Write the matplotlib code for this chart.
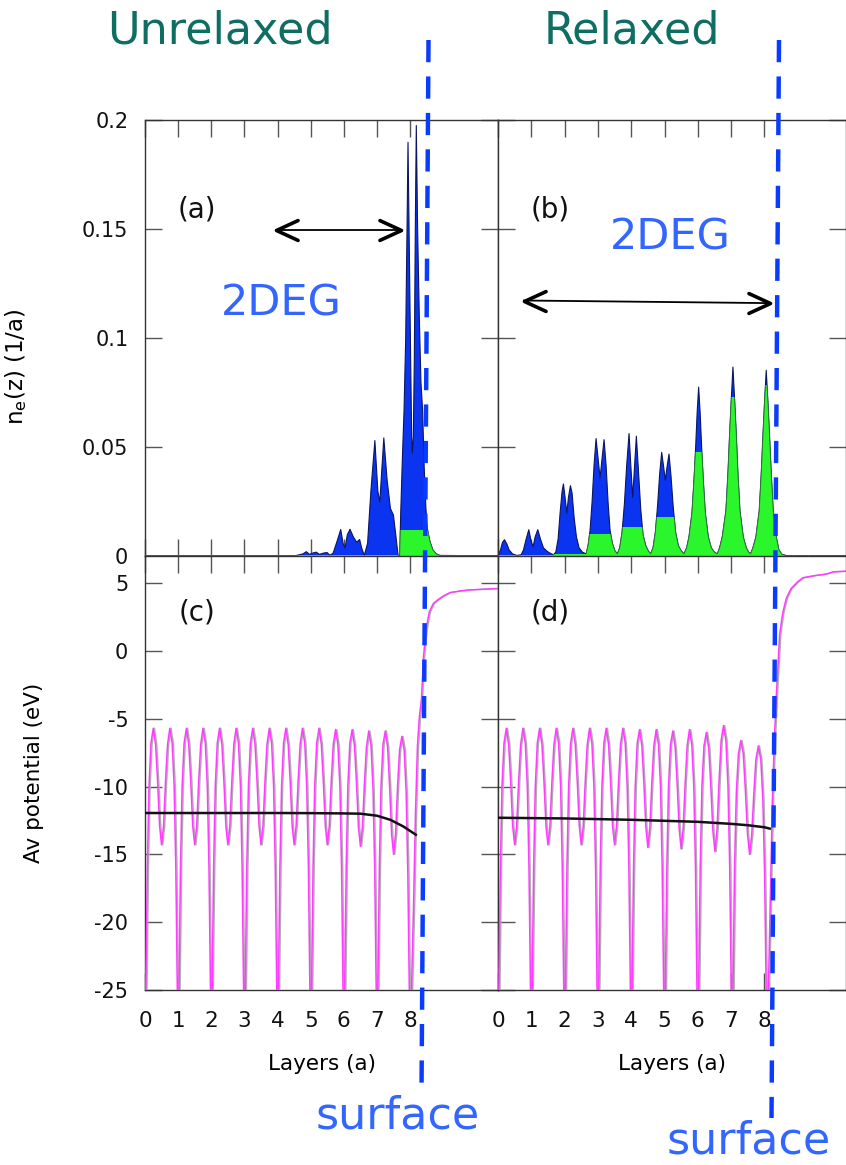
import numpy as np
import matplotlib
matplotlib.use("Agg")
import matplotlib.pyplot as plt
from matplotlib.patches import Polygon
from matplotlib.lines import Line2D
from matplotlib.markers import MarkerStyle
from matplotlib.path import Path
import matplotlib.transforms as mtransforms

plt.rcParams['font.family'] = ['DejaVu Sans']
plt.rcParams['axes.unicode_minus'] = False

# ---- electron density n_e(z), unrelaxed (a)
dens_a_x = [0.0, 4.5, 4.75, 4.85, 4.95, 5.05, 5.15, 5.25, 5.38, 5.48, 5.56, 5.66, 5.78, 5.89,
            5.96, 6.02, 6.09, 6.17, 6.27, 6.37, 6.46, 6.52, 6.60, 6.70, 6.80, 6.92, 7.01, 7.07,
            7.13, 7.19, 7.29, 7.39, 7.48, 7.55, 7.62, 7.67, 7.70, 7.75, 7.80, 7.85, 7.89, 7.92,
            7.96, 8.00, 8.03, 8.05, 8.08, 8.11, 8.14, 8.17, 8.21, 8.26, 8.31, 8.36, 8.41, 8.46,
            8.50, 8.58, 8.67, 8.77, 8.88, 10.65]
dens_a_y = [0.0003, 0.0003, 0.0012, 0.0022, 0.0010, 0.0016, 0.0020, 0.0010, 0.0016, 0.0018, 0.0006,
            0.0015, 0.0070, 0.0124, 0.0060, 0.0040, 0.0100, 0.0125, 0.0090, 0.0066, 0.0078, 0.0040,
            0.0005, 0.0060, 0.0300, 0.0532, 0.0300, 0.0250, 0.0400, 0.0544, 0.0350, 0.0220, 0.0190,
            0.0100, 0.0005, 0.0005, 0.0200, 0.0450, 0.0670, 0.1000, 0.1500, 0.1900, 0.1400, 0.0900,
            0.0550, 0.0475, 0.0550, 0.0900, 0.1500, 0.1977, 0.1500, 0.1100, 0.0800, 0.0670, 0.0400,
            0.0220, 0.0130, 0.0070, 0.0030, 0.0012, 0.0005, 0.0003]
# green part = density cut at a level per layer
green_a_edges = [0.0, 7.65, 10.65]
green_a_caps = [0.0003, 0.012]

# ---- electron density n_e(z), relaxed (b)
dens_b_x = [0.00, 0.06, 0.12, 0.18, 0.25, 0.32, 0.42, 0.55, 0.68, 0.75, 0.83, 0.91, 0.98, 1.04,
            1.10, 1.18, 1.26, 1.35, 1.45, 1.55, 1.65,
            1.72, 1.79, 1.85, 1.91, 1.95, 2.00, 2.05, 2.10, 2.16, 2.21, 2.27, 2.34, 2.42, 2.52, 2.63,
            2.69, 2.75, 2.81, 2.87, 2.93, 2.99, 3.05, 3.11, 3.17, 3.23, 3.29, 3.35, 3.42, 3.50, 3.57,
            3.64, 3.71, 3.78, 3.85, 3.92, 3.98, 4.03, 4.08, 4.14, 4.20, 4.27, 4.34, 4.42, 4.50, 4.57,
            4.64, 4.71, 4.78, 4.84, 4.90, 4.96, 5.01, 5.06, 5.12, 5.18, 5.25, 5.32, 5.40, 5.49, 5.57,
            5.65, 5.72, 5.81, 5.87, 5.92, 5.965, 6.01, 6.055, 6.10, 6.15, 6.21, 6.30, 6.39, 6.48, 6.57,
            6.64, 6.72, 6.83, 6.89, 6.94, 6.99, 7.04, 7.09, 7.14, 7.19, 7.25, 7.35, 7.44, 7.51, 7.57,
            7.64, 7.73, 7.83, 7.89, 7.94, 7.99, 8.04, 8.09, 8.14, 8.19, 8.25, 8.34, 8.42, 8.51, 8.65,
            10.45]
dens_b_y = [0.0010, 0.0030, 0.0065, 0.0077, 0.0058, 0.0030, 0.0012, 0.0005, 0.0008, 0.0030, 0.0080,
            0.0123, 0.0070, 0.0045, 0.0090, 0.0123, 0.0080, 0.0040, 0.0025, 0.0015, 0.0008,
            0.0020, 0.0080, 0.0200, 0.0300, 0.0333, 0.0270, 0.0199, 0.0270, 0.0325, 0.0290, 0.0180,
            0.0090, 0.0040, 0.0020, 0.0012,
            0.0050, 0.0120, 0.0250, 0.0420, 0.0541, 0.0450, 0.0360, 0.0450, 0.0536, 0.0420, 0.0250,
            0.0120, 0.0060, 0.0025, 0.0012,
            0.0040, 0.0110, 0.0240, 0.0420, 0.0564, 0.0400, 0.0270, 0.0400, 0.0552, 0.0400, 0.0220,
            0.0100, 0.0050, 0.0025, 0.0012,
            0.0040, 0.0110, 0.0240, 0.0380, 0.0478, 0.0410, 0.0350, 0.0410, 0.0470, 0.0370, 0.0220,
            0.0110, 0.0050, 0.0025, 0.0012,
            0.0040, 0.0090, 0.0200, 0.0350, 0.0500, 0.0660, 0.0777, 0.0660, 0.0500, 0.0350, 0.0200,
            0.0090, 0.0040, 0.0020, 0.0012,
            0.0040, 0.0090, 0.0210, 0.0380, 0.0560, 0.0720, 0.0869, 0.0720, 0.0560, 0.0380, 0.0210,
            0.0090, 0.0040, 0.0020, 0.0012,
            0.0040, 0.0090, 0.0210, 0.0380, 0.0550, 0.0710, 0.0854, 0.0710, 0.0550, 0.0380, 0.0210,
            0.0090, 0.0030, 0.0010, 0.0004,
            0.0003]
green_b_edges = [0.0, 1.65, 2.63, 3.57, 4.57, 5.57, 6.57, 7.57, 10.45]
green_b_caps = [0.0003, 0.0010, 0.0100, 0.0133, 0.0181, 0.0475, 0.0731, 0.0786]

# ---- averaged potential (eV); each row = one layer, sampled at pot_offsets
pot_offsets = [0.0, 0.03, 0.07, 0.12, 0.18, 0.25, 0.32, 0.38, 0.44, 0.5,
               0.56, 0.62, 0.68, 0.75, 0.82, 0.88, 0.93, 0.97]

pot_c_sites = [0, 1, 2, 3, 4, 5, 6, 7, 8]
pot_c_cells = [
    [-30, -24, -16, -10, -6.8, -5.7, -6.9, -9.6, -12.9, -14.3, -12.9, -9.6, -6.9, -5.7, -6.8, -10, -16, -24],
    [-30, -24, -16, -10, -6.8, -5.7, -6.9, -9.6, -12.9, -14.3, -12.9, -9.6, -6.9, -5.7, -6.8, -10, -16, -24],
    [-30, -24, -16, -10, -6.8, -5.7, -6.9, -9.6, -12.9, -14.3, -12.9, -9.6, -6.9, -5.7, -6.8, -10, -16, -24],
    [-30, -24, -16, -10, -6.8, -5.7, -6.9, -9.6, -12.9, -14.3, -12.9, -9.6, -6.9, -5.7, -6.8, -10, -16, -24],
    [-30, -24, -16, -10, -6.8, -5.7, -6.9, -9.6, -12.9, -14.3, -12.9, -9.6, -6.9, -5.7, -6.8, -10, -16, -24],
    [-30, -24, -16, -10, -6.8, -5.7, -6.9, -9.6, -12.9, -14.3, -12.9, -9.6, -6.9, -5.8, -6.9, -10, -16, -24],
    [-30, -24, -16, -10, -6.8, -5.8, -7.0, -9.7, -13.0, -14.4, -13.0, -9.8, -7.1, -5.9, -7.0, -10.2, -16, -24],
    [-30, -24, -16, -10, -6.9, -5.9, -7.1, -10, -13.5, -15.0, -13.5, -10, -7.3, -6.3, -7.3, -10.5, -16.5, -24],
]
pot_c_tail_x = [8.0, 8.04, 8.1, 8.16, 8.22, 8.28, 8.34, 8.4, 8.48, 8.58, 8.7, 8.85, 9.0, 9.2,
                9.5, 9.8, 10.2, 10.65]
pot_c_tail_y = [-30, -25, -19, -12, -7, -4.8, -3.6, -0.5, 1.6, 2.9, 3.5, 3.8, 4.05, 4.3,
                4.42, 4.5, 4.55, 4.6]

pot_d_sites = [0, 1, 2, 3, 4, 5, 6, 7.03, 8.08]
pot_d_cells = [
    [-30, -24, -16, -10, -6.8, -5.7, -6.9, -9.6, -12.9, -14.3, -12.9, -9.6, -6.9, -5.7, -6.8, -10, -16, -24],
    [-30, -24, -16, -10, -6.8, -5.7, -6.9, -9.6, -12.9, -14.3, -12.9, -9.6, -6.9, -5.7, -6.8, -10, -16, -24],
    [-30, -24, -16, -10, -6.8, -5.7, -6.9, -9.6, -12.9, -14.3, -12.9, -9.6, -6.9, -5.7, -6.8, -10, -16, -24],
    [-30, -24, -16, -10, -6.8, -5.7, -6.9, -9.6, -12.9, -14.3, -12.9, -9.6, -6.9, -5.7, -6.8, -10, -16, -24],
    [-30, -24, -16, -10, -6.8, -5.8, -7.0, -9.7, -13.0, -14.5, -13.0, -9.7, -7.0, -5.8, -6.9, -10, -16, -24],
    [-30, -24, -16, -10, -6.9, -5.9, -7.1, -9.8, -13.1, -14.6, -13.1, -9.8, -7.0, -5.8, -6.9, -10, -16, -24],
    [-30, -24, -16, -10, -7.0, -6.0, -7.2, -10, -13.3, -14.8, -13.2, -9.6, -6.6, -5.5, -6.6, -10, -16, -24],
    [-30, -24, -16, -10.5, -7.6, -6.6, -7.6, -10.3, -13.5, -15.0, -13.6, -10.6, -8.0, -7.0, -8.0, -11, -16.5, -24],
]
pot_d_tail_x = [8.08, 8.12, 8.18, 8.24, 8.3, 8.36, 8.42, 8.46, 8.55, 8.66, 8.8, 9.0, 9.16,
                9.5, 9.77, 9.9, 10.07, 10.45]
pot_d_tail_y = [-30, -25, -18, -11, -6.5, -3.2, -0.5, 1.25, 2.8, 3.9, 4.6, 5.1, 5.4,
                5.55, 5.64, 5.7, 5.83, 5.88]

# planar-averaged (macroscopic) potential
avg_c_x = [0, 1, 2, 3, 4, 5, 5.5, 6, 6.5, 7.0, 7.4, 7.8, 8.17]
avg_c_y = [-11.95, -11.95, -11.95, -11.95, -11.95, -11.96, -11.97, -11.98, -12.0, -12.15,
           -12.45, -12.95, -13.55]
avg_d_x = [0, 2, 4, 6, 7, 7.5, 8.0, 8.16]
avg_d_y = [-12.3, -12.35, -12.45, -12.6, -12.75, -12.85, -13.0, -13.1]

# double arrows marking the 2DEG extent
arrow_a_x = [3.96, 7.72]
arrow_a_y = [0.1494, 0.1494]
arrow_b_x = [0.78, 8.16]
arrow_b_y = [0.1172, 0.1160]

layer_ticks = list(range(9))
dens_ticks = [0, 0.05, 0.1, 0.15, 0.2]
dens_ticklabels = ['0', '0.05', '0.1', '0.15', '0.2']
pot_ticks = [5, 0, -5, -10, -15, -20, -25]

BLUE = '#0a34f0'
NAVY = '#0a1660'
GREEN = '#2bf52b'
DKGREEN = '#2a7a2a'
MAGENTA = '#ff3cff'
TEAL = '#0f6e62'
LBLUE = '#3366ff'
DASH = '#0a3cff'


def potential_curve(sites, cells, tail_x, tail_y):
    xs, ys = [], []
    for i, row in enumerate(cells):
        w = sites[i + 1] - sites[i]
        for off, v in zip(pot_offsets, row):
            xs.append(sites[i] + off * w)
            ys.append(v)
    return xs + tail_x, ys + tail_y


def draw_density(ax, x, y, edges, caps):
    ax.fill_between(x, 0, y, facecolor=BLUE, edgecolor=NAVY, lw=0.8, zorder=2)
    green = ax.fill_between(x, 0, y, facecolor=GREEN, edgecolor=DKGREEN, lw=0.6, zorder=3)
    verts = [(edges[0], 0)]
    for x0, x1, c in zip(edges[:-1], edges[1:], caps):
        verts += [(x0, c), (x1, c)]
    verts.append((edges[-1], 0))
    green.set_clip_path(Polygon(verts, closed=True, transform=ax.transData))


def draw_arrow(ax, xs, ys):
    ax.plot(xs, ys, color='k', lw=1.3, zorder=5)
    left = MarkerStyle(Path([(1, 0.46), (0, 0), (1, -0.46)]), joinstyle='round', capstyle='round')
    right = MarkerStyle(Path([(-1, 0.46), (0, 0), (-1, -0.46)]), joinstyle='round', capstyle='round')
    ax.plot(xs[0], ys[0], marker=left, ms=31, mfc='none', mec='k', mew=2.6, zorder=5)
    ax.plot(xs[1], ys[1], marker=right, ms=31, mfc='none', mec='k', mew=2.6, zorder=5)


def style(ax):
    ax.tick_params(direction='in', top=True, right=True, length=12, width=1,
                   color='#555555', labelcolor='#111111')
    ax.tick_params(axis='x', pad=15, labelsize=15.5)
    ax.tick_params(axis='y', pad=12, labelsize=15)
    for s in ax.spines.values():
        s.set_color('#333333')
        s.set_linewidth(1)
    ax.set_xticks(layer_ticks)


fig = plt.figure(figsize=(8.46, 11.65), dpi=100)
W, H = 846, 1165
ax_a = fig.add_axes([145 / W, 1 - 556 / H, 353 / W, 436 / H])
ax_b = fig.add_axes([498 / W, 1 - 556 / H, 348 / W, 436 / H])
ax_c = fig.add_axes([145 / W, 1 - 990 / H, 353 / W, 434 / H])
ax_d = fig.add_axes([498 / W, 1 - 990 / H, 348 / W, 434 / H])

draw_density(ax_a, dens_a_x, dens_a_y, green_a_edges, green_a_caps)
draw_density(ax_b, dens_b_x, dens_b_y, green_b_edges, green_b_caps)
draw_arrow(ax_a, arrow_a_x, arrow_a_y)
draw_arrow(ax_b, arrow_b_x, arrow_b_y)

for ax, (px, py), (ax_x, ax_y) in [
        (ax_c, potential_curve(pot_c_sites, pot_c_cells, pot_c_tail_x, pot_c_tail_y), (avg_c_x, avg_c_y)),
        (ax_d, potential_curve(pot_d_sites, pot_d_cells, pot_d_tail_x, pot_d_tail_y), (avg_d_x, avg_d_y))]:
    shadow = mtransforms.offset_copy(ax.transData, fig=fig, x=1.2, y=0, units='dots')
    ax.plot(px, py, color='#b0b0b0', lw=1.0, transform=shadow, zorder=3)
    ax.plot(px, py, color=MAGENTA, lw=1.1, zorder=4)
    ax.plot(ax_x, ax_y, color='#111111', lw=1.8, zorder=5)

for ax in (ax_a, ax_b, ax_c, ax_d):
    style(ax)
ax_a.set_xlim(0, 10.65)
ax_c.set_xlim(0, 10.65)
ax_b.set_xlim(0, 10.45)
ax_d.set_xlim(0, 10.45)
for ax in (ax_a, ax_b):
    ax.set_ylim(0, 0.2)
    ax.set_yticks(dens_ticks)
    ax.tick_params(labelbottom=False)
for ax in (ax_c, ax_d):
    ax.set_ylim(-25, 7)
    ax.set_yticks(pot_ticks)
for ax in (ax_b, ax_d):
    ax.tick_params(labelleft=False)
ax_a.set_yticklabels(dens_ticklabels)
ax_c.set_yticklabels([str(t) for t in pot_ticks])

ax_a.set_ylabel(r'n$_\mathregular{e}$(z) (1/a)', fontsize=16.5)
ax_a.yaxis.set_label_coords(-0.33, 0.435)
ax_c.set_ylabel('Av potential (eV)', fontsize=15.5)
ax_c.yaxis.set_label_coords(-0.285, 0.5)
ax_c.set_xlabel('Layers (a)', fontsize=15.5, labelpad=17)
ax_d.set_xlabel('Layers (a)', fontsize=15.5, labelpad=17)

for ax, lab, y in [(ax_a, '(a)', 0.159), (ax_b, '(b)', 0.159), (ax_c, '(c)', 2.87), (ax_d, '(d)', 2.87)]:
    ax.text(1.56, y, lab, fontsize=20, ha='center', va='center', color='#111111')

ax_a.text(4.12, 0.116, '2DEG', fontsize=31, color=LBLUE, ha='center', va='center')
ax_b.text(5.18, 0.146, '2DEG', fontsize=31, color=LBLUE, ha='center', va='center')

fig.text(220 / W, 1 - 31 / H, 'Unrelaxed', fontsize=32, color=TEAL, ha='center', va='center')
fig.text(632 / W, 1 - 31 / H, 'Relaxed', fontsize=32, color=TEAL, ha='center', va='center')
fig.text(398 / W, 1 - 1116 / H, 'surface', fontsize=32, color=LBLUE, ha='center', va='center')
fig.text(749 / W, 1 - 1141 / H, 'surface', fontsize=32, color=LBLUE, ha='center', va='center')

# surface position markers across both panels
fig.add_artist(Line2D([428.5 / W, 421.5 / W], [1 - 40 / H, 1 - 1093 / H], transform=fig.transFigure,
                      color=DASH, lw=3.2, dashes=(5, 3.2), zorder=10))
fig.add_artist(Line2D([779 / W, 771.5 / W], [1 - 40 / H, 1 - 1118 / H], transform=fig.transFigure,
                      color=DASH, lw=3.2, dashes=(5, 3.2), zorder=10))

fig.savefig('out.png', dpi=100, facecolor='white')
